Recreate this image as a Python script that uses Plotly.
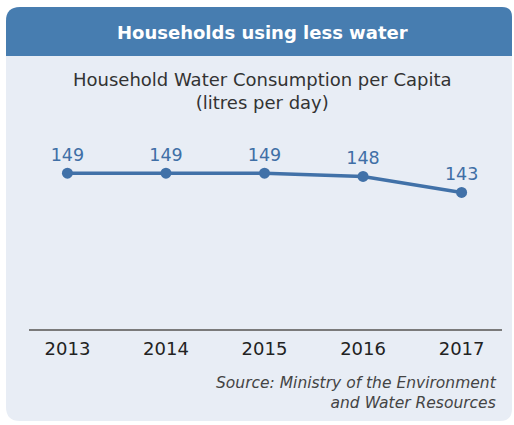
import plotly.graph_objects as go

years = ["2013", "2014", "2015", "2016", "2017"]
consumption = [149, 149, 149, 148, 143]

W, H = 514, 425
FONT = "DejaVu Sans, sans-serif"

def px(x):
    return x / W

def py(y):
    return 1 - y / H

def rounded_path(x0, y0, x1, y1, rtl, rtr, rbr, rbl):
    p = []
    p.append(f"M {px(x0 + rtl)},{py(y0)}")
    p.append(f"L {px(x1 - rtr)},{py(y0)}")
    p.append(f"Q {px(x1)},{py(y0)} {px(x1)},{py(y0 + rtr)}")
    p.append(f"L {px(x1)},{py(y1 - rbr)}")
    p.append(f"Q {px(x1)},{py(y1)} {px(x1 - rbr)},{py(y1)}")
    p.append(f"L {px(x0 + rbl)},{py(y1)}")
    p.append(f"Q {px(x0)},{py(y1)} {px(x0)},{py(y1 - rbl)}")
    p.append(f"L {px(x0)},{py(y0 + rtl)}")
    p.append(f"Q {px(x0)},{py(y0)} {px(x0 + rtl)},{py(y0)}")
    p.append("Z")
    return " ".join(p)

fig = go.Figure()
fig.add_trace(go.Scatter(
    x=list(range(len(years))), y=consumption,
    mode="lines+markers+text",
    text=[str(v) for v in consumption],
    textposition="top center",
    textfont=dict(family=FONT, size=17.5, color="#3f6fa6"),
    line=dict(color="#4171a8", width=3.5),
    marker=dict(color="#4171a8", size=11),
    cliponaxis=False,
    hoverinfo="skip",
))

shapes = [
    dict(type="path", xref="paper", yref="paper", layer="below",
         path=rounded_path(6, 7, 512, 421, 14, 10, 12, 14),
         fillcolor="#e8edf5", line=dict(width=0)),
    dict(type="path", xref="paper", yref="paper", layer="below",
         path=rounded_path(6, 7, 512, 56, 14, 10, 0, 0),
         fillcolor="#477db0", line=dict(width=0)),
    dict(type="line", xref="paper", yref="paper", layer="above",
         x0=px(29), x1=px(502), y0=py(330), y1=py(330),
         line=dict(color="#7a7a7a", width=2)),
]

annotations = [
    dict(text="<b>Households using less water</b>", x=px(262), y=py(33),
         xref="paper", yref="paper", showarrow=False, xanchor="center", yanchor="middle",
         font=dict(family=FONT, size=18, color="white")),
    dict(text="Household Water Consumption per Capita<br>(litres per day)",
         x=px(262), y=py(91), xref="paper", yref="paper", showarrow=False,
         xanchor="center", yanchor="middle",
         font=dict(family=FONT, size=18, color="#333333")),
    dict(text="<i>Source: Ministry of the Environment<br>and Water Resources</i>",
         x=px(499), y=py(393), xref="paper", yref="paper", showarrow=False,
         xanchor="right", yanchor="middle", align="right",
         font=dict(family=FONT, size=15.5, color="#444444")),
]

fig.update_layout(
    width=W, height=H,
    margin=dict(l=0, r=0, t=0, b=0),
    paper_bgcolor="white",
    plot_bgcolor="rgba(0,0,0,0)",
    showlegend=False,
    shapes=shapes,
    annotations=annotations,
    xaxis=dict(
        domain=[px(29), px(502)],
        range=[-0.39, 4.41],
        tickmode="array", tickvals=list(range(len(years))), ticktext=years,
        showgrid=False, zeroline=False, showline=False, ticks="",
        tickfont=dict(family=FONT, size=18, color="#222222"),
        ticklabelstandoff=6,
        fixedrange=True,
    ),
    yaxis=dict(
        domain=[py(330), py(138)],
        range=[100, 160],
        visible=False, showgrid=False, zeroline=False,
        fixedrange=True,
    ),
)

fig.write_html("out.html")
